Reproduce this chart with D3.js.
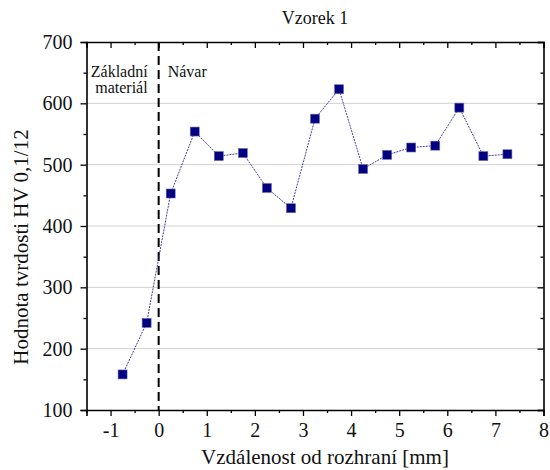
<!DOCTYPE html>
<html>
<head>
<meta charset="utf-8">
<script src="https://cdn.jsdelivr.net/npm/d3@7"></script>
<style>
  html, body { margin: 0; padding: 0; background: #fff; }
  svg { display: block; }
  svg text { font-family: "Liberation Serif", "Times New Roman", Times, "DejaVu Serif", serif; }
</style>
</head>
<body>
<svg id="chart" width="550" height="470"></svg>
<script>
// Measurement positions [mm] relative to the interface and hardness values
const distances = [-0.75, -0.25, 0.25, 0.75, 1.25, 1.75, 2.25, 2.75, 3.25, 3.75, 4.25, 4.75, 5.25, 5.75, 6.25, 6.75, 7.25];
const hardness = [158, 242, 453, 554, 514, 519, 462, 429, 575, 623, 493, 516, 528, 531, 593, 514, 517];
const xTicks = [-1, 0, 1, 2, 3, 4, 5, 6, 7, 8];
const xTickLabels = ["-1", "0", "1", "2", "3", "4", "5", "6", "7", "8"];
const yTicks = [100, 200, 300, 400, 500, 600, 700];
const title = "Vzorek 1";
const xTitle = "Vzdálenost od rozhraní [mm]";
const yTitle = "Hodnota tvrdosti HV 0,1/12";
const regionLeft = ["Základní", "materiál"];
const regionRight = "Návar";

const FONT = '"Liberation Serif", "Times New Roman", Times, "DejaVu Serif", serif';
const svg = d3.select("#chart");
const m = { left: 86.5, right: 543.5, top: 42, bottom: 410 };

const x = d3.scaleLinear().domain([-1.5, 8]).range([m.left, m.right]);
const y = d3.scaleLinear().domain([100, 700]).range([m.bottom, m.top]);

// horizontal grid
svg.append("g").selectAll("line").data(yTicks.slice(1, -1)).join("line")
  .attr("x1", m.left).attr("x2", m.right)
  .attr("y1", d => y(d)).attr("y2", d => y(d))
  .attr("stroke", "#d2d2d2").attr("stroke-width", 1);

const minorX = d3.range(-1.5, 8.01, 0.5);
const minorY = d3.range(100, 701, 50);

// bottom axis (outward ticks)
const bottom = svg.append("g").attr("transform", `translate(0,${m.bottom})`)
  .call(d3.axisBottom(x).tickValues(xTicks).tickSize(6).tickPadding(5)
    .tickFormat((d, i) => xTickLabels[i]));
svg.append("g").attr("transform", `translate(0,${m.bottom})`)
  .call(d3.axisBottom(x).tickValues(minorX.filter(v => !xTicks.includes(v))).tickSize(3).tickFormat(""))
  .call(g => g.select(".domain").remove());

// left axis (outward ticks)
svg.append("g").attr("transform", `translate(${m.left},0)`)
  .call(d3.axisLeft(y).tickValues(yTicks).tickSize(6).tickPadding(8));
svg.append("g").attr("transform", `translate(${m.left},0)`)
  .call(d3.axisLeft(y).tickValues(minorY.filter(v => !yTicks.includes(v))).tickSize(3).tickFormat(""))
  .call(g => g.select(".domain").remove());

// top mirror axis (inward ticks)
svg.append("g").attr("transform", `translate(0,${m.top})`)
  .call(d3.axisTop(x).tickValues(xTicks).tickSize(-6).tickFormat(""));
svg.append("g").attr("transform", `translate(0,${m.top})`)
  .call(d3.axisTop(x).tickValues(minorX.filter(v => !xTicks.includes(v))).tickSize(-3).tickFormat(""))
  .call(g => g.select(".domain").remove());

// right mirror axis (inward ticks)
svg.append("g").attr("transform", `translate(${m.right},0)`)
  .call(d3.axisRight(y).tickValues(yTicks).tickSize(-6).tickFormat(""));
svg.append("g").attr("transform", `translate(${m.right},0)`)
  .call(d3.axisRight(y).tickValues(minorY.filter(v => !yTicks.includes(v))).tickSize(-3).tickFormat(""))
  .call(g => g.select(".domain").remove());

svg.selectAll("g").attr("font-family", FONT);
svg.selectAll(".domain").attr("stroke", "#000").attr("stroke-width", 1.6);
svg.selectAll(".tick line").attr("stroke", "#000").attr("stroke-width", 1.3);
svg.selectAll(".tick text").attr("font-size", 20).attr("fill", "#111");
bottom.selectAll(".tick text").attr("dy", "0.8em");

// interface marker at x = 0
svg.append("line")
  .attr("x1", x(0)).attr("x2", x(0)).attr("y1", m.top).attr("y2", m.bottom)
  .attr("stroke", "#000").attr("stroke-width", 2).attr("stroke-dasharray", "9,5");

// region labels
svg.append("text").attr("x", x(0) - 11).attr("y", 77).attr("text-anchor", "end")
  .attr("font-size", 16).attr("fill", "#111").text(regionLeft[0]);
svg.append("text").attr("x", x(0) - 11).attr("y", 93).attr("text-anchor", "end")
  .attr("font-size", 16).attr("fill", "#111").text(regionLeft[1]);
svg.append("text").attr("x", x(0) + 9).attr("y", 77).attr("text-anchor", "start")
  .attr("font-size", 16).attr("fill", "#111").text(regionRight);

// connecting line
const pts = distances.map((d, i) => [d, hardness[i]]);
svg.append("path").datum(pts)
  .attr("d", d3.line().x(d => x(d[0])).y(d => y(d[1])))
  .attr("fill", "none").attr("stroke", "#2a2a90").attr("stroke-width", 0.9)
  .attr("stroke-dasharray", "2,1");

// square markers
const s = 9;
svg.append("g").selectAll("rect").data(pts).join("rect")
  .attr("x", d => x(d[0]) - s / 2).attr("y", d => y(d[1]) - s / 2)
  .attr("width", s).attr("height", s)
  .attr("fill", "#000080").attr("stroke", "#6a6ab0").attr("stroke-width", 0.6);

// titles
svg.append("text").attr("x", (m.left + m.right) / 2).attr("y", 24).attr("text-anchor", "middle")
  .attr("font-size", 18).attr("fill", "#111").text(title);
svg.append("text").attr("x", 325).attr("y", 464).attr("text-anchor", "middle")
  .attr("font-size", 21).attr("fill", "#111").text(xTitle);
svg.append("text").attr("transform", `translate(28,247) rotate(-90)`)
  .attr("text-anchor", "middle").attr("font-size", 21).attr("fill", "#111").text(yTitle);
</script>
</body>
</html>
